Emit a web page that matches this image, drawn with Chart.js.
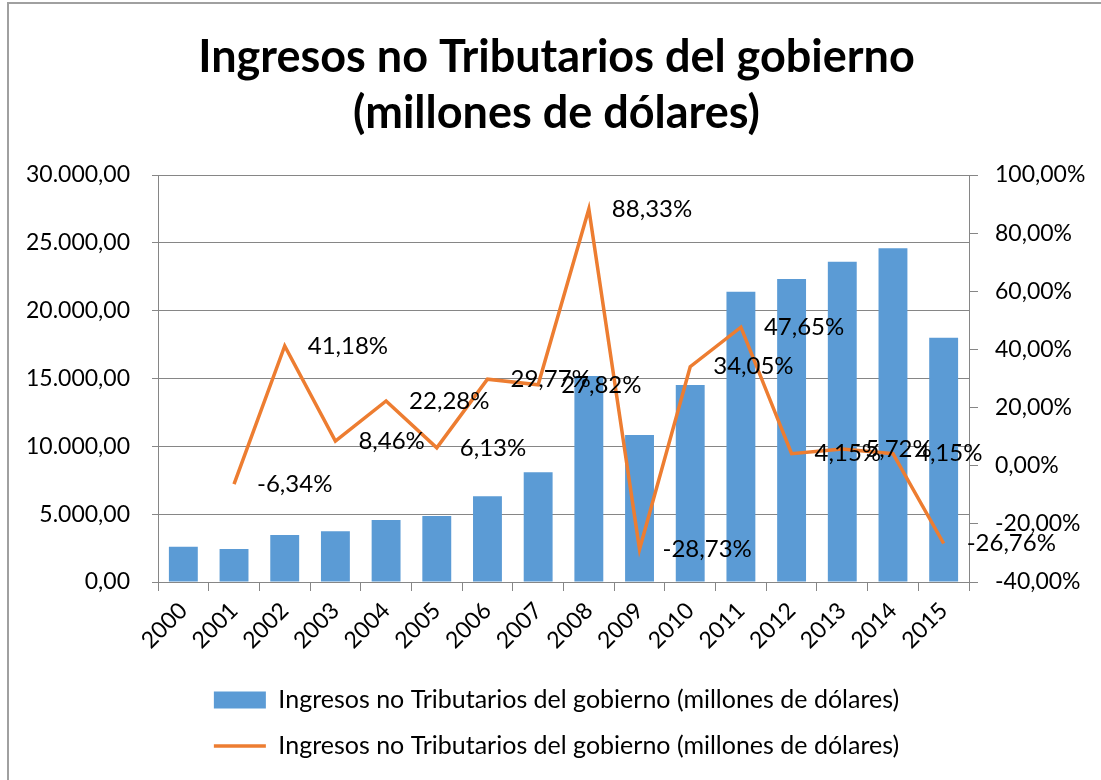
<!DOCTYPE html>
<html>
<head>
<meta charset="utf-8">
<script src="https://cdn.jsdelivr.net/npm/chart.js@4/dist/chart.umd.min.js"></script>
<style>
  body { margin: 0; background: #fff; }
  canvas { display: block; }
</style>
</head>
<body>
<canvas id="chart" width="1101" height="780"></canvas>
<script>
// Datos
const years = ['2000', '2001', '2002', '2003', '2004', '2005', '2006', '2007',
               '2008', '2009', '2010', '2011', '2012', '2013', '2014', '2015'];
const ingresos = [2600, 2430, 3460, 3740, 4570, 4870, 6320, 8090,
                  15180, 10840, 14520, 21400, 22330, 23610, 24600, 18010];
const variacion = [null, -6.34, 41.18, 8.46, 22.28, 6.13, 29.77, 27.82,
                   88.33, -28.73, 34.05, 47.65, 4.15, 5.72, 4.15, -26.76];
const serieLabel = 'Ingresos no Tributarios del gobierno (millones de dólares)';

const FONT = 'Lato';
const GRAY = '#868686';

function formatMiles(v) {
    const parts = v.toFixed(2).split('.');
    parts[0] = parts[0].replace(/\B(?=(\d{3})+(?!\d))/g, '.');
    return parts[0] + ',' + parts[1];
}

function formatPct(v) {
    return v.toFixed(2).replace('.', ',') + '%';
}

// etiquetas de la linea, a la derecha de cada punto
const lineLabels = {
    id: 'lineLabels',
    afterDatasetsDraw(chart) {
        const meta = chart.getDatasetMeta(1);
        const ctx = chart.ctx;
        ctx.save();
        ctx.font = '24px ' + FONT;
        ctx.fillStyle = '#000';
        ctx.textAlign = 'left';
        ctx.textBaseline = 'middle';
        meta.data.forEach((pt, i) => {
            const v = variacion[i];
            if (v === null) return;
            ctx.fillText(formatPct(v), pt.x + 23, pt.y);
        });
        ctx.restore();
    }
};

// marco del grafico
const frame = {
    id: 'frame',
    afterDraw(chart) {
        const ctx = chart.ctx;
        ctx.save();
        ctx.strokeStyle = '#a0a0a0';
        ctx.lineWidth = 2;
        ctx.beginPath();
        ctx.moveTo(8, 790);
        ctx.lineTo(8, 3);
        ctx.lineTo(1110, 3);
        ctx.stroke();
        ctx.restore();
    }
};

const ctx = document.getElementById('chart').getContext('2d');
const chart = new Chart(ctx, {
    type: 'bar',
    data: {
        labels: years,
        datasets: [{
            type: 'bar',
            label: serieLabel,
            data: ingresos,
            backgroundColor: '#5B9BD5',
            borderWidth: 0,
            categoryPercentage: 0.57,
            barPercentage: 1,
            yAxisID: 'y',
            order: 1,
            pointStyle: 'rect'
        }, {
            type: 'line',
            label: serieLabel,
            data: variacion,
            borderColor: '#ED7D31',
            backgroundColor: '#ED7D31',
            borderWidth: 3.5,
            pointRadius: 0,
            tension: 0,
            yAxisID: 'y1',
            order: 0,
            pointStyle: 'line'
        }]
    },
    options: {
        responsive: false,
        animation: false,
        devicePixelRatio: 1,
        layout: { padding: { left: 12, right: 0, top: 0, bottom: 11.5 } },
        plugins: {
            title: {
                display: true,
                text: ['Ingresos no Tributarios del gobierno', '(millones de dólares)'],
                color: '#000',
                font: { family: FONT, size: 45, weight: 'bold', lineHeight: 1.25 },
                padding: { top: 29, bottom: 33.5 }
            },
            legend: {
                position: 'bottom',
                labels: {
                    usePointStyle: true,
                    pointStyleWidth: 52,
                    boxHeight: 17,
                    padding: 21,
                    color: '#000',
                    font: { family: FONT, size: 25 },
                    sort: (a, b) => a.datasetIndex - b.datasetIndex
                }
            },
            tooltip: { enabled: false }
        },
        scales: {
            x: {
                grid: { drawOnChartArea: false, color: GRAY, tickLength: 9 },
                border: { display: true, color: GRAY },
                ticks: {
                    color: '#000',
                    font: { family: FONT, size: 23 },
                    maxRotation: 45,
                    minRotation: 45,
                    padding: 6
                },
                afterFit(scale) { scale.height = 84.5; }
            },
            y: {
                position: 'left',
                min: 0,
                max: 30000,
                ticks: {
                    stepSize: 5000,
                    color: '#000',
                    font: { family: FONT, size: 23 },
                    padding: 22,
                    callback: v => formatMiles(v)
                },
                grid: { color: GRAY, tickLength: 6 },
                border: { display: true, color: GRAY },
                afterFit(scale) { scale.width = 146; }
            },
            y1: {
                position: 'right',
                min: -40,
                max: 100,
                ticks: {
                    stepSize: 20,
                    color: '#000',
                    font: { family: FONT, size: 23 },
                    padding: 17,
                    callback: v => formatPct(v)
                },
                grid: { drawOnChartArea: false, color: GRAY, tickLength: 9 },
                border: { display: true, color: GRAY },
                afterFit(scale) { scale.width = 132; }
            }
        }
    },
    plugins: [lineLabels, frame]
});
</script>
</body>
</html>
